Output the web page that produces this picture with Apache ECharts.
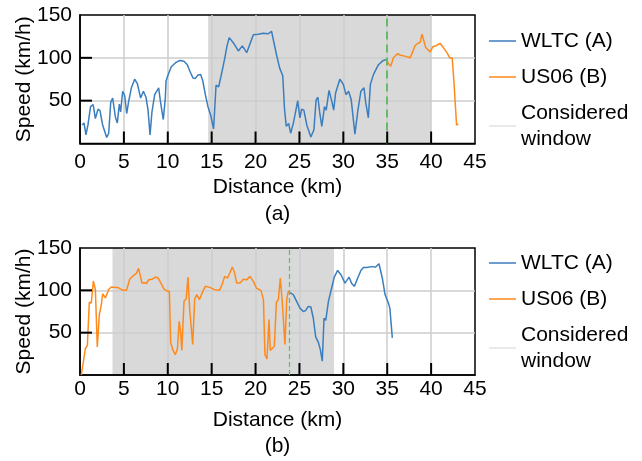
<!DOCTYPE html>
<html>
<head>
<meta charset="utf-8">
<title>Speed profiles</title>
<script src="https://cdn.jsdelivr.net/npm/echarts@6/dist/echarts.min.js"></script>
<style>
  html, body { margin: 0; padding: 0; background: #fff; }
  #chart { width: 642px; height: 461px; }
</style>
</head>
<body>
<div id="chart"></div>
<script>
// ---- panel (a): WLTC followed by US06 ----
const aWltcKm = [0.23, 0.46, 0.68, 0.91, 1.2, 1.5, 1.75, 2.05, 2.28, 2.58, 3.04, 3.27, 3.5, 3.72, 4.03, 4.25, 4.48, 4.63, 4.86, 5.09, 5.32, 5.54, 5.85, 6.23, 6.53, 6.91, 7.22, 7.52, 7.75, 7.98, 8.2, 8.51, 8.74, 8.96, 9.19, 9.49, 9.72, 9.8, 10.03, 10.4, 10.86, 11.36, 11.85, 12.23, 12.53, 12.87, 13.14, 13.44, 13.75, 14.0, 14.28, 14.58, 14.89, 15.22, 15.5, 15.8, 16.2, 16.5, 16.75, 17.0, 17.46, 18.04, 18.5, 18.99, 19.2, 19.75, 20.3, 20.87, 21.44, 21.82, 22.4, 22.75, 23.1, 23.3, 23.5, 23.77, 24.0, 24.3, 24.6, 24.8, 25.05, 25.25, 25.5, 25.85, 26.3, 26.65, 26.9, 27.1, 27.35, 27.55, 27.85, 28.05, 28.37, 28.67, 28.9, 29.12, 29.6, 30.0, 30.3, 30.6, 30.9, 31.32, 31.65, 32.0, 32.35, 32.55, 32.85, 33.08, 33.45, 34.0, 34.55, 35.0];
const aWltcSpeed = [21.6, 24, 10, 22, 43, 45.5, 29, 40, 38.5, 21.6, 7, 12, 48, 53, 31, 24, 46, 37, 61, 56, 35, 49, 65, 75, 70, 53, 61, 54, 39, 10, 37, 57, 61, 65, 47, 28, 53, 73, 80, 89.5, 94, 97, 96, 92, 84, 76.5, 76, 80, 80.5, 72.6, 57, 43, 33, 17, 68, 66, 85, 100, 114, 123.6, 117.7, 108, 114, 106, 108, 127, 127.5, 128.7, 128, 131, 103, 88, 79, 40, 20, 23.5, 12, 23.5, 39, 50, 30, 40, 39, 21, 7.5, 16, 51, 54, 33, 20, 43, 39, 62, 50, 39, 59, 75, 69, 57, 61, 51, 11, 38, 61, 65, 48, 30, 69, 81, 92, 97, 98];
const aUs06Km = [35.0, 35.1, 35.4, 35.7, 36.2, 36.5, 37.0, 37.6, 37.9, 38.2, 38.5, 38.75, 38.96, 39.1, 39.4, 39.9, 40.2, 40.55, 41.0, 41.4, 41.8, 42.15, 42.4, 42.6, 42.9, 43.1];
const aUs06Speed = [97, 94, 90, 100, 105, 103, 102, 100, 107, 114.6, 117, 118, 127.6, 128.7, 111.8, 107, 113, 114, 117, 112, 106, 99.6, 100, 72, 21.6, 22.7];
const aWindow = [14.6, 40];   // considered window, km
const aSwitch = 35;           // switch point, km

// ---- panel (b): US06 followed by WLTC ----
const bUs06Km = [0.15, 0.61, 0.84, 1.06, 1.29, 1.52, 1.75, 1.97, 2.2, 2.43, 2.58, 2.89, 3.04, 3.27, 3.57, 3.95, 4.4, 4.9, 5.3, 5.66, 6.04, 6.42, 6.68, 6.84, 7.06, 7.3, 7.56, 7.82, 8.2, 8.58, 8.89, 9.19, 9.57, 9.95, 10.18, 10.33, 10.6, 10.86, 11.1, 11.3, 11.47, 11.6, 11.85, 12.1, 12.3, 12.5, 12.84, 13.07, 13.3, 13.6, 14.0, 14.28, 14.77, 15.34, 15.9, 16.18, 16.48, 16.8, 17.09, 17.35, 17.58, 17.85, 18.23, 18.6, 19.0, 19.37, 19.75, 20.1, 20.3, 20.62, 20.9, 21.07, 21.3, 21.53, 21.68, 21.9, 22.14, 22.37, 22.6, 22.82, 23.05, 23.35, 23.55, 23.73, 23.85];
const bUs06Speed = [0, 31, 35, 86, 85, 111, 101, 33, 71, 83, 96, 91, 90, 101, 104, 103.5, 103, 100, 100, 113, 117, 120, 126, 127.5, 108.6, 109, 108, 112.5, 113, 115.7, 114.6, 109, 101.5, 99, 99, 38, 29, 24, 31, 63.4, 50, 29, 87, 90, 115.7, 77, 36, 90, 95, 89, 99, 104.7, 103.5, 100.8, 100, 106.6, 116.5, 114.5, 121, 127.5, 122, 108.6, 108.6, 113, 112.5, 116.5, 110.6, 102.7, 100.8, 99.6, 89, 24, 19, 65.4, 29, 30.7, 34, 85.6, 89, 114.6, 85, 36, 89, 98.8, 97.6];
const bWltcKm = [23.85, 24.3, 24.68, 25.06, 25.44, 25.7, 26.0, 26.3, 26.58, 26.85, 27.15, 27.38, 27.6, 27.8, 28.0, 28.3, 28.67, 28.97, 29.35, 29.73, 30.19, 30.4, 30.65, 30.95, 31.25, 31.64, 32.0, 32.28, 32.66, 33.2, 33.68, 34.06, 34.44, 34.75, 35.13, 35.3, 35.58];
const bWltcSpeed = [97.6, 95, 87, 79, 75, 76, 81, 80.3, 67, 45, 38.6, 30, 16.3, 67, 64.6, 87, 102.7, 115.7, 123.5, 118.4, 108.6, 111.8, 115.7, 108, 104.7, 114.6, 123.5, 127, 127, 128, 127.5, 131.4, 114.6, 95, 85, 79, 43.8];
const bWindow = [3.7, 28.95];
const bSwitch = 23.8;

// ---- axes ----
const distanceTicks = { min: 0, max: 45, interval: 5 };
const speedTicks = { min: 0, max: 150, interval: 50 };

const NAMES = ['WLTC (A)', 'US06 (B)', 'Considered window'];
const BLUE = '#3a7ebf';
const ORANGE = '#ff8a1c';
const WINDOW_GREY = '#d9d9d9';
const FONT = "'Liberation Sans', Arial, sans-serif";
const FS = 21;
const TICK_LEN = 12;

const pairs = (xs, ys) => xs.map((x, i) => [x, ys[i]]);

// inner tick values (the end ticks coincide with the frame)
function innerTicks(t) {
  const out = [];
  for (let v = t.min + t.interval; v < t.max; v += t.interval) out.push(v);
  return out;
}

function xAxisFor(gridIndex, labelCenter, nameCenter) {
  return {
    type: 'value', gridIndex,
    min: distanceTicks.min, max: distanceTicks.max, interval: distanceTicks.interval,
    axisLine: { show: true, lineStyle: { color: '#000', width: 1.5 } },
    axisTick: { show: false },
    splitLine: { show: true, showMinLine: false, showMaxLine: false, lineStyle: { color: '#cccccc', width: 1.5 } },
    axisLabel: { fontSize: FS, color: '#000', fontFamily: FONT, margin: labelCenter, verticalAlign: 'middle' },
    name: 'Distance (km)', nameLocation: 'middle', nameGap: nameCenter, nameMoveOverlap: false,
    nameTextStyle: { fontSize: FS, color: '#000', fontFamily: FONT, verticalAlign: 'middle' }
  };
}

function yAxisFor(gridIndex) {
  return {
    type: 'value', gridIndex,
    min: speedTicks.min, max: speedTicks.max, interval: speedTicks.interval,
    axisLine: { show: true, lineStyle: { color: '#000', width: 1.5 } },
    axisTick: { show: false },
    splitLine: { show: true, showMinLine: false, showMaxLine: false, lineStyle: { color: '#cccccc', width: 1.5 } },
    axisLabel: { fontSize: FS, color: '#000', fontFamily: FONT, margin: 8, showMinLabel: false },
    name: 'Speed (km/h)', nameLocation: 'middle', nameRotate: 90, nameGap: 56, nameMoveOverlap: false,
    nameTextStyle: { fontSize: FS, color: '#000', fontFamily: FONT, verticalAlign: 'middle' }
  };
}

function speedLine(name, color, idx, data) {
  return {
    name, type: 'line', xAxisIndex: idx, yAxisIndex: idx,
    data, symbol: 'none', showSymbol: false, smooth: false,
    color, lineStyle: { color, width: 1.5 }, z: 3
  };
}

function windowSeries(idx, win, switchAt, dashWidth, dash) {
  return {
    name: 'Considered window', type: 'line', xAxisIndex: idx, yAxisIndex: idx,
    data: [], symbol: 'none', color: '#e2e2e2', lineStyle: { color: '#e2e2e2', width: 2 },
    markArea: {
      silent: true, z: -1,
      itemStyle: { color: WINDOW_GREY },
      data: [[{ xAxis: win[0] }, { xAxis: win[1] }]]
    },
    markLine: {
      silent: true, symbol: 'none', animation: false,
      label: { show: false },
      lineStyle: { color: '#66bb66', type: dash, width: dashWidth },
      data: [{ xAxis: switchAt }]
    }
  };
}

function legendAt(top) {
  return {
    orient: 'vertical', left: 484, top,
    icon: 'rect', itemWidth: 27, itemHeight: 1.5, itemGap: 10,
    data: NAMES,
    formatter: n => n === 'Considered window' ? 'Considered\nwindow' : n,
    textStyle: { fontSize: FS, lineHeight: 26, color: '#000', fontFamily: FONT }
  };
}

const captionFont = FS + "px 'Liberation Sans', Arial, sans-serif";
const captions = [
  { id: 'cap-a', type: 'text', x: 277.5, y: 214, z: 100, style: { text: '(a)', fill: '#000', font: captionFont, textAlign: 'center', textVerticalAlign: 'middle' } },
  { id: 'cap-b', type: 'text', x: 277.5, y: 446, z: 100, style: { text: '(b)', fill: '#000', font: captionFont, textAlign: 'center', textVerticalAlign: 'middle' } }
];

const chart = echarts.init(document.getElementById('chart'), null, { renderer: 'canvas' });
chart.setOption({
  animation: false,
  backgroundColor: '#fff',
  grid: [
    { left: 80, top: 15, width: 395, height: 128.5, show: true, borderColor: '#000', borderWidth: 1.5, backgroundColor: 'transparent', outerBoundsMode: 'none' },
    { left: 80, top: 248, width: 395, height: 127, show: true, borderColor: '#000', borderWidth: 1.5, backgroundColor: 'transparent', outerBoundsMode: 'none' }
  ],
  xAxis: [xAxisFor(0, 19, 43.5), xAxisFor(1, 14, 45.5)],
  yAxis: [yAxisFor(0), yAxisFor(1)],
  legend: [legendAt(23), legendAt(245)],
  graphic: { elements: captions },
  series: [
    windowSeries(0, aWindow, aSwitch, 2, [8, 5]),
    speedLine('WLTC (A)', BLUE, 0, pairs(aWltcKm, aWltcSpeed)),
    speedLine('US06 (B)', ORANGE, 0, pairs(aUs06Km, aUs06Speed)),
    windowSeries(1, bWindow, bSwitch, 1.2, [5, 3]),
    speedLine('US06 (B)', ORANGE, 1, pairs(bUs06Km, bUs06Speed)),
    speedLine('WLTC (A)', BLUE, 1, pairs(bWltcKm, bWltcSpeed))
  ]
});

// inward tick marks on the bottom and left edges, placed through each grid's own scales
const tickMarks = [];
[0, 1].forEach(g => {
  innerTicks(distanceTicks).forEach(v => {
    const p = chart.convertToPixel({ gridIndex: g }, [v, speedTicks.min]);
    tickMarks.push({ id: 'xt' + g + '-' + v, type: 'line', z: 100, silent: true,
      shape: { x1: p[0], y1: p[1], x2: p[0], y2: p[1] - TICK_LEN },
      style: { stroke: '#000', lineWidth: 2 } });
  });
  innerTicks(speedTicks).forEach(v => {
    const p = chart.convertToPixel({ gridIndex: g }, [distanceTicks.min, v]);
    tickMarks.push({ id: 'yt' + g + '-' + v, type: 'line', z: 100, silent: true,
      shape: { x1: p[0], y1: p[1], x2: p[0] + TICK_LEN, y2: p[1] },
      style: { stroke: '#000', lineWidth: 2 } });
  });
});
chart.setOption({ graphic: { elements: captions.concat(tickMarks) } });
</script>
</body>
</html>
